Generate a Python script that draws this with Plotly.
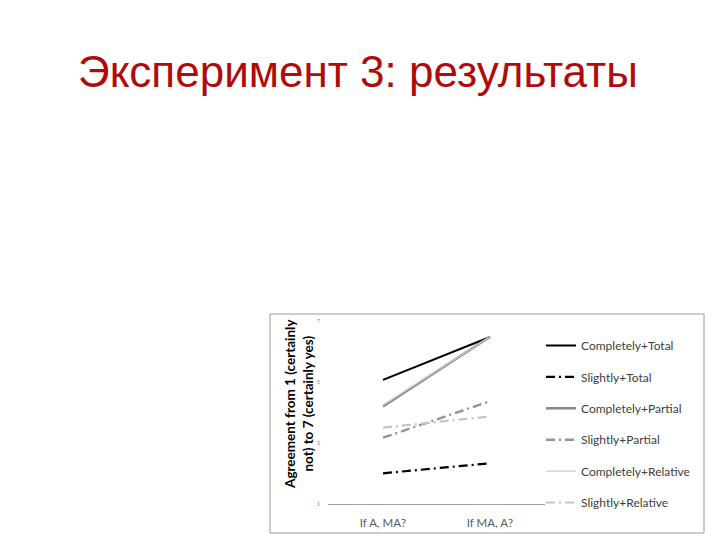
import plotly.graph_objects as go

categories = ["If A, MA?", "If MA, A?"]
series_names = ["Completely+Total", "Slightly+Total", "Completely+Partial",
                "Slightly+Partial", "Completely+Relative", "Slightly+Relative"]
completely_total = [5.08, 6.49]
slightly_total = [2.01, 2.34]
completely_partial = [4.21, 6.50]
slightly_partial = [3.18, 4.38]
completely_relative = [4.25, 6.50]
slightly_relative = [3.51, 3.88]
y_ticks = [1, 3, 5, 7]

values = [completely_total, slightly_total, completely_partial,
          slightly_partial, completely_relative, slightly_relative]
colors = ["#000000", "#000000", "#8a8a8a", "#959595", "#c8c8c8", "#c4c4c4"]
widths = [2, 2.2, 2.6, 2.4, 1.2, 2.2]
dashdot = "9px,4px,2px,4px"
dashes = ["solid", dashdot, "solid", dashdot, "solid", dashdot]

# page offset (body margin) and target pixel geometry of the plot area
OFF = 8
W, H = 720, 540
L, R, T, B = 328 - OFF, 545 - OFF, 320 - OFF, 504 - OFF

def px(x):
    return (x - OFF - L) / (R - L)

def py(y):
    return (B - (y - OFF)) / (B - T)

fig = go.Figure()
for i, (name, vals) in enumerate(zip(series_names, values)):
    fig.add_trace(go.Scatter(
        x=categories, y=vals, mode="lines", name=name,
        legendgroup=f"g{i}",
        line=dict(color=colors[i], width=widths[i], dash=dashes[i]),
    ))

fig.update_layout(
    width=W, height=H,
    margin=dict(l=L, r=W - R, t=T, b=H - B),
    paper_bgcolor="white", plot_bgcolor="white",
    showlegend=True,
    legend=dict(
        x=px(541), y=py(331), xanchor="left", yanchor="top",
        font=dict(family="Lato", size=12, color="#404040"),
        tracegroupgap=12.4, traceorder="grouped",
        bgcolor="rgba(0,0,0,0)", maxheight=400,
    ),
    xaxis=dict(
        type="category", range=[-0.514, 1.514],
        showgrid=False, showline=True, linecolor="#a6a6a6", linewidth=1,
        ticks="", ticklabelstandoff=8,
        tickfont=dict(family="Lato", size=11.5, color="#595959"),
        zeroline=False,
    ),
    yaxis=dict(
        range=[1, 7.05], tickvals=y_ticks,
        showgrid=False, showline=False, zeroline=False, ticks="",
        ticklabelstandoff=7,
        tickfont=dict(family="Lato", size=5, color="#c06060"),
    ),
    font=dict(family="Lato"),
)

fig.add_annotation(
    text="Эксперимент 3: результаты", xref="paper", yref="paper",
    x=px(358), y=py(72), xanchor="center", yanchor="middle", showarrow=False,
    font=dict(family="Liberation Sans", size=44, color="#b00a0a"),
)

fig.add_annotation(
    text="<b>Agreement from 1 (certainly<br>not) to 7 (certainly yes)</b>",
    xref="paper", yref="paper", x=px(299), y=py(404),
    xanchor="center", yanchor="middle", textangle=-90, showarrow=False,
    font=dict(family="Lato", size=13.5, color="#000000"),
)

fig.add_shape(
    type="rect", xref="paper", yref="paper",
    x0=px(270), x1=px(704), y0=py(533), y1=py(314),
    line=dict(color="#9a9a9a", width=1), layer="below",
)

fig.write_html("out.html")
